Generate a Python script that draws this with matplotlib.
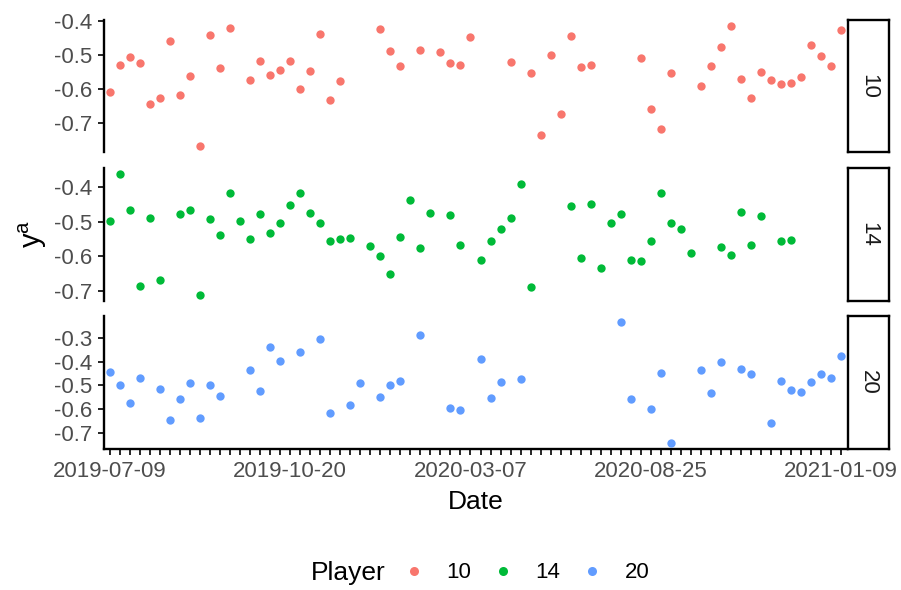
import matplotlib
matplotlib.use("Agg")
import matplotlib.pyplot as plt
from matplotlib.lines import Line2D

plt.rcParams['font.family'] = ['Liberation Sans', 'DejaVu Sans']
plt.rcParams['axes.unicode_minus'] = False
plt.rcParams['mathtext.default'] = 'regular'

###############################################################
# Data: position of each date among the 74 dates (0..73) and y^a values
n_dates = 74
xtick_pos = [0, 18, 36, 54, 73]
xtick_labels = ['2019-07-09', '2019-10-20', '2020-03-07', '2020-08-25', '2021-01-09']

players = ['10', '14', '20']
colors = ['#F8766D', '#00BA38', '#619CFF']

p10_x = [0, 1, 2, 3, 4, 5, 6, 7, 8, 9, 10, 11, 12, 14, 15, 16, 17, 18, 19, 20,
         21, 22, 23, 27, 28, 29, 31, 33, 34, 35, 36, 40, 42, 43, 44, 45, 46, 47,
         48, 53, 54, 55, 56, 59, 60, 61, 62, 63, 64, 65, 66, 67, 68, 69, 70, 71,
         72, 73]
p10_y = [-0.610, -0.530, -0.505, -0.522, -0.646, -0.627, -0.459, -0.617, -0.562,
         -0.769, -0.441, -0.538, -0.420, -0.573, -0.517, -0.560, -0.543, -0.519,
         -0.601, -0.548, -0.437, -0.634, -0.578, -0.423, -0.487, -0.531, -0.485,
         -0.492, -0.522, -0.530, -0.446, -0.521, -0.554, -0.737, -0.501, -0.674,
         -0.445, -0.534, -0.530, -0.508, -0.660, -0.720, -0.554, -0.591, -0.532,
         -0.475, -0.414, -0.572, -0.628, -0.550, -0.574, -0.587, -0.583, -0.564,
         -0.470, -0.503, -0.531, -0.427]

p14_x = [0, 1, 2, 3, 4, 5, 7, 8, 9, 10, 11, 12, 13, 14, 15, 16, 17, 18, 19, 20,
         21, 22, 23, 24, 26, 27, 28, 29, 30, 31, 32, 34, 35, 37, 38, 39, 40, 41,
         42, 46, 47, 48, 49, 50, 51, 52, 53, 54, 55, 56, 57, 58, 61, 62, 63, 64,
         65, 67, 68]
p14_y = [-0.498, -0.363, -0.466, -0.684, -0.489, -0.668, -0.478, -0.466, -0.711,
         -0.491, -0.539, -0.418, -0.499, -0.549, -0.477, -0.532, -0.504, -0.452,
         -0.418, -0.476, -0.503, -0.555, -0.550, -0.546, -0.569, -0.599, -0.651,
         -0.545, -0.437, -0.575, -0.475, -0.481, -0.568, -0.611, -0.557, -0.520,
         -0.490, -0.391, -0.688, -0.455, -0.605, -0.448, -0.633, -0.504, -0.478,
         -0.610, -0.613, -0.557, -0.418, -0.504, -0.521, -0.589, -0.573, -0.595,
         -0.472, -0.566, -0.485, -0.557, -0.552]

p20_x = [0, 1, 2, 3, 5, 6, 7, 8, 9, 10, 11, 14, 15, 16, 17, 19, 21, 22, 24, 25,
         27, 28, 29, 31, 34, 35, 37, 38, 39, 41, 51, 52, 54, 55, 56, 59, 60, 61,
         63, 64, 66, 67, 68, 69, 70, 71, 72, 73]
p20_y = [-0.445, -0.497, -0.572, -0.467, -0.515, -0.647, -0.558, -0.491, -0.636,
         -0.498, -0.545, -0.434, -0.522, -0.338, -0.399, -0.361, -0.306, -0.616,
         -0.584, -0.490, -0.548, -0.497, -0.481, -0.289, -0.594, -0.604, -0.388,
         -0.551, -0.484, -0.474, -0.233, -0.556, -0.598, -0.446, -0.742, -0.434,
         -0.533, -0.400, -0.430, -0.453, -0.660, -0.481, -0.520, -0.529, -0.487,
         -0.453, -0.467, -0.375]

yticks = [[-0.7, -0.6, -0.5, -0.4],
          [-0.7, -0.6, -0.5, -0.4],
          [-0.7, -0.6, -0.5, -0.4, -0.3]]

###############################################################
# Facet layout (pixel boxes of the 901x590 figure)
W, H = 901, 590
left_px, right_px, strip_w = 104, 847, 41
panel_px = [(20, 152), (168, 301), (316, 449)]

fig = plt.figure(figsize=(W / 100, H / 100), dpi=100)
series = [(p10_x, p10_y), (p14_x, p14_y), (p20_x, p20_y)]

for i, (xs, ys) in enumerate(series):
    top, bot = panel_px[i]
    rect = [left_px / W, (H - bot) / H, (right_px - left_px) / W, (bot - top) / H]
    ax = fig.add_axes(rect)
    ax.scatter(xs, ys, s=36, color=colors[i], linewidths=0, zorder=3, clip_on=False)
    ax.set_xlim(-0.6, n_dates - 1 + 0.6)
    ax.margins(y=0.05)
    ax.set_yticks(yticks[i])
    ax.set_yticklabels(['%.1f' % v for v in yticks[i]])
    for side in ['top', 'right']:
        ax.spines[side].set_visible(False)
    ax.spines['left'].set_linewidth(1.7)
    ax.tick_params(axis='y', length=4, width=1.2, pad=4.5, labelsize=16,
                   labelcolor='#4D4D4D', color='black')
    if i < 2:
        ax.spines['bottom'].set_visible(False)
        ax.set_xticks([])
    else:
        ax.spines['bottom'].set_linewidth(1.7)
        ax.set_xticks(range(n_dates), minor=True)
        ax.set_xticks(xtick_pos)
        ax.set_xticklabels(xtick_labels)
        ax.tick_params(axis='x', which='both', length=4, width=1.2, pad=4.5,
                       labelsize=16, labelcolor='#4D4D4D', color='black')

    # strip on the right
    sax = fig.add_axes([(right_px + 1) / W, (H - bot) / H, strip_w / W, (bot - top) / H])
    sax.set_xticks([])
    sax.set_yticks([])
    for sp in sax.spines.values():
        sp.set_linewidth(1.7)
        sp.set_color('black')
    sax.text(0.5, 0.5, players[i], rotation=-90, ha='center', va='center',
             fontsize=16, color='#1A1A1A', transform=sax.transAxes)

###############################################################
# Axis titles and legend
fig.text(0.036, (H - 234) / H, '$y^a$', rotation=90, ha='center', va='center',
         fontsize=21)
fig.text((left_px + right_px) / 2 / W, (H - 509) / H, 'Date', ha='center',
         va='baseline', fontsize=19)

fig.text(311 / W, (H - 573) / H, 'Player', ha='left', va='center', fontsize=19)
handles = [Line2D([], [], linestyle='none', marker='o', markersize=6.5,
                  markerfacecolor=c, markeredgewidth=0) for c in colors]
fig.legend(handles, players, ncol=3, loc='center', bbox_to_anchor=(526 / W, (H - 573) / H),
           frameon=False, fontsize=16, handlelength=1.0, handletextpad=0.95,
           columnspacing=0.95)

fig.savefig('out.png', dpi=100)
